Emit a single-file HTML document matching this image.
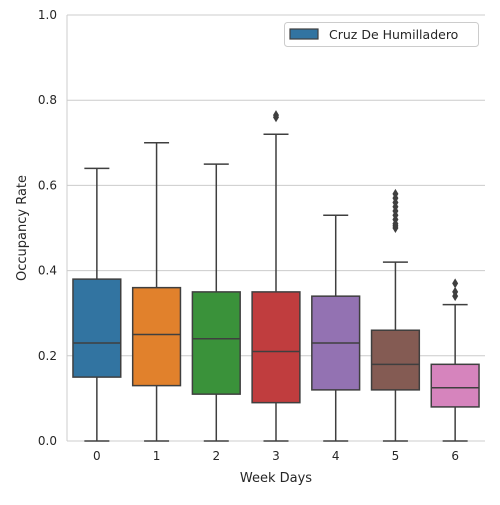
<!DOCTYPE html>
<html><head><meta charset="utf-8"><style>
body{margin:0;background:#fff;font-family:"Liberation Sans","DejaVu Sans",sans-serif}
svg text{font-family:"DejaVu Sans","Liberation Sans",sans-serif;fill:#262626}
</style></head><body>
<svg id="chart" width="500" height="500"></svg>
<script>
const categories=["0","1","2","3","4","5","6"];
const whiskLow=[0,0,0,0,0,0,0];
const whiskHigh=[0.64,0.70,0.65,0.72,0.53,0.42,0.32];
const q1=[0.15,0.13,0.11,0.09,0.12,0.12,0.08];
const median=[0.23,0.25,0.24,0.21,0.23,0.18,0.125];
const q3=[0.38,0.36,0.35,0.35,0.34,0.26,0.18];
const outliers=[[],[],[],[0.76,0.765],[],[0.50,0.505,0.51,0.52,0.53,0.54,0.55,0.56,0.57,0.58],[0.34,0.35,0.37]];
const colors=["#3274a1","#e1812c","#3a923a","#c03d3e","#9372b2","#845b53","#d684bd"];
const yTicks=[0,0.2,0.4,0.6,0.8,1.0];
const NS="http://www.w3.org/2000/svg";
const svg=document.getElementById("chart");
const L=67,R=485,T=15,B=441;
const bw=(R-L)/categories.length;
const x=i=>L+(i+0.5)*bw;
const y=v=>B-(B-T)*v;
function mk(tag,a,parent){const e=document.createElementNS(NS,tag);for(const k in a)e.setAttribute(k,a[k]);(parent||svg).appendChild(e);return e;}
yTicks.forEach(t=>{
 const g=mk("line",{x1:L,x2:R,y1:y(t),y2:y(t),stroke:"#cccccc","stroke-width":1});
 
 
 const tx=mk("text",{x:L-10,y:y(t)+4,"text-anchor":"end","font-size":12});
 tx.textContent=t.toFixed(1);
 
 
});
const ax=mk("line",{x1:L,x2:L,y1:T,y2:B,stroke:"#cccccc"});


const bx=mk("line",{x1:L,x2:R,y1:B,y2:B,stroke:"#cccccc"});


const dk="#3f3f3f";
categories.forEach((c,i)=>{
 const g=mk("g",{});
 
 
 const cx=x(i),w=bw*0.8;
 mk("line",{x1:cx,x2:cx,y1:y(q3[i]),y2:y(whiskHigh[i]),stroke:dk,"stroke-width":1.5},g);
 mk("line",{x1:cx,x2:cx,y1:y(q1[i]),y2:y(whiskLow[i]),stroke:dk,"stroke-width":1.5},g);
 mk("line",{x1:cx-12.5,x2:cx+12.5,y1:y(whiskHigh[i]),y2:y(whiskHigh[i]),stroke:dk,"stroke-width":1.5},g);
 mk("line",{x1:cx-12.5,x2:cx+12.5,y1:y(whiskLow[i]),y2:y(whiskLow[i]),stroke:dk,"stroke-width":1.5},g);
 mk("rect",{x:cx-w/2,y:y(q3[i]),width:w,height:y(q1[i])-y(q3[i]),fill:colors[i],stroke:dk,"stroke-width":1.5},g);
 mk("line",{x1:cx-w/2,x2:cx+w/2,y1:y(median[i]),y2:y(median[i]),stroke:dk,"stroke-width":1.5},g);
 outliers[i].forEach(v=>{
  const p=mk("path",{d:`M${cx},${y(v)-5}L${cx+3},${y(v)}L${cx},${y(v)+5}L${cx-3},${y(v)}Z`,fill:dk},g);
  
  
 });
 const t=mk("text",{x:cx,y:B+19,"text-anchor":"middle","font-size":12});
 t.textContent=c;
 
 
});
</script>
<svg style="position:absolute;left:0;top:0" width="500" height="500">
<text x="276" y="482" text-anchor="middle" font-size="13">Week Days</text>
<text x="0" y="0" transform="translate(26,228) rotate(-90)" text-anchor="middle" font-size="13">Occupancy Rate</text>
<g>
<rect x="284.5" y="22.5" width="194" height="24" rx="3" fill="#fff" stroke="#cccccc"/>
<rect x="290" y="29" width="28" height="10" fill="#3274a1" stroke="#3f3f3f" stroke-width="1.2"/>
<text x="329" y="39" font-size="12.5">Cruz De Humilladero</text>
</g>
</svg>
</body></html>
